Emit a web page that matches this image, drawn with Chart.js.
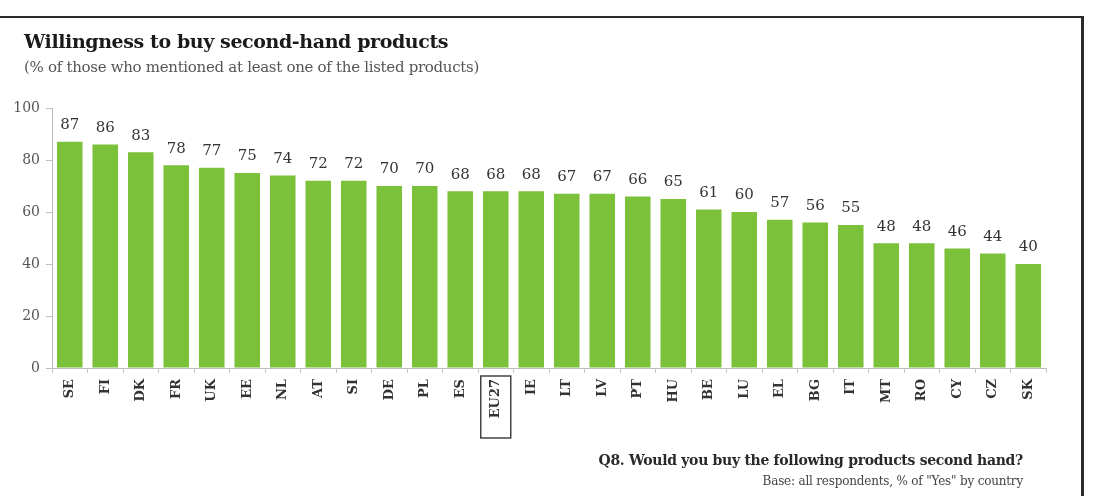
<!DOCTYPE html>
<html>
<head>
<meta charset="utf-8">
<script src="https://cdn.jsdelivr.net/npm/chart.js@4"></script>
<style>
  html, body { margin: 0; padding: 0; background: #fff; }
  #wrap { position: relative; width: 1098px; height: 496px; overflow: hidden; }
  #wrap canvas { position: absolute; left: 0; top: 0; }
  .frame-top { position: absolute; left: 0; top: 16px; width: 1084px; height: 2px; background: #2b2b2b; }
  .frame-right { position: absolute; left: 1081px; top: 16px; width: 3px; height: 480px; background: #2b2b2b; }
  .txt { position: absolute; font-family: "DejaVu Serif", "Liberation Serif", serif; white-space: nowrap; }
  #title { left: 24px; top: 30px; font-size: 19px; font-weight: bold; color: #1a1a1a; letter-spacing: -0.4px; }
  #subtitle { left: 24px; top: 58px; font-size: 15px; color: #555; letter-spacing: -0.3px; }
  #q { right: 75px; top: 452px; font-size: 14px; font-weight: bold; color: #2a2a2a; letter-spacing: -0.3px; }
  #base { right: 75px; top: 474px; font-size: 12px; color: #444; letter-spacing: -0.2px; }
</style>
</head>
<body>
<div id="wrap">
  <canvas id="c" width="1098" height="496"></canvas>
  <div class="frame-top"></div>
  <div class="frame-right"></div>
  <div class="txt" id="title">Willingness to buy second-hand products</div>
  <div class="txt" id="subtitle">(% of those who mentioned at least one of the listed products)</div>
  <div class="txt" id="q">Q8. Would you buy the following products second hand?</div>
  <div class="txt" id="base">Base: all respondents, % of "Yes" by country</div>
</div>
<script>
// countries, sorted as in the source chart
var countries = ["SE", "FI", "DK", "FR", "UK", "EE", "NL", "AT", "SI", "DE", "PL", "ES", "EU27", "IE",
  "LT", "LV", "PT", "HU", "BE", "LU", "EL", "BG", "IT", "MT", "RO", "CY", "CZ", "SK"];
// % of "Yes"
var yesShare = [87, 86, 83, 78, 77, 75, 74, 72, 72, 70, 70, 68, 68, 68,
  67, 67, 66, 65, 61, 60, 57, 56, 55, 48, 48, 46, 44, 40];
var highlighted = "EU27";

(function () {
  "use strict";

  var barGreen = "#7cc13a";
  var serif = "'DejaVu Serif', 'Liberation Serif', serif";

  // values above the bars + rotated country labels (read bottom to top)
  var labelsPlugin = {
    id: "labels",
    afterDatasetsDraw: function (chart) {
      var ctx = chart.ctx;
      var meta = chart.getDatasetMeta(0);
      var xs = chart.scales.x;
      ctx.save();
      ctx.fillStyle = "#333";
      ctx.font = "15px " + serif;
      ctx.textAlign = "center";
      ctx.textBaseline = "bottom";
      meta.data.forEach(function (bar, i) {
        ctx.fillText(String(yesShare[i]), bar.x, bar.y - 9);
      });

      ctx.font = "bold 13px " + serif;
      ctx.fillStyle = "#333";
      countries.forEach(function (c, i) {
        var x = xs.getPixelForValue(i);
        var y = xs.top + 11;
        ctx.save();
        ctx.translate(x, y);
        ctx.rotate(-Math.PI / 2);
        ctx.textAlign = "right";
        ctx.textBaseline = "middle";
        ctx.fillText(c, 0, 0);
        ctx.restore();
        if (c === highlighted) {
          ctx.strokeStyle = "#444";
          ctx.lineWidth = 1.5;
          ctx.strokeRect(x - 15, xs.top + 8, 30, 62);
        }
      });
      ctx.restore();
    }
  };

  var ctx = document.getElementById("c").getContext("2d");
  new Chart(ctx, {
    type: "bar",
    data: {
      labels: countries,
      datasets: [{
        data: yesShare,
        backgroundColor: barGreen,
        borderWidth: 0,
        barPercentage: 0.72,
        categoryPercentage: 1.0
      }]
    },
    options: {
      responsive: false,
      animation: false,
      layout: { padding: { top: 108, right: 52, left: 0, bottom: 0 } },
      plugins: { legend: { display: false }, tooltip: { enabled: false } },
      scales: {
        x: {
          grid: { drawOnChartArea: false, offset: true, tickLength: 5, color: "#c8c8c8" },
          border: { color: "#bdbdbd" },
          ticks: { display: false },
          afterFit: function (s) { s.height = 128; }
        },
        y: {
          min: 0,
          max: 100,
          ticks: { stepSize: 20, color: "#555", padding: 6, font: { family: serif, size: 14 } },
          grid: { drawOnChartArea: false, tickLength: 6, color: "#bdbdbd" },
          border: { color: "#bdbdbd" },
          afterFit: function (s) { s.width = 52; }
        }
      }
    },
    plugins: [labelsPlugin]
  });
})();
</script>
</body>
</html>
